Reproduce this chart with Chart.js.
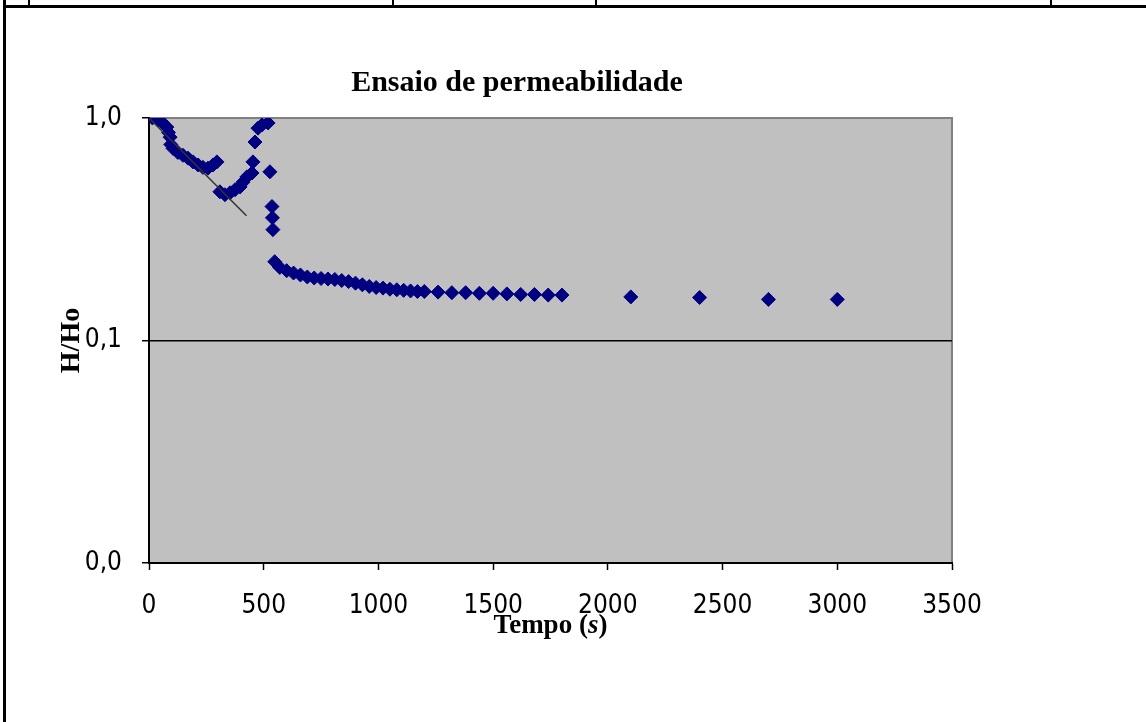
<!DOCTYPE html>
<html>
<head>
<meta charset="utf-8">
<script src="https://cdn.jsdelivr.net/npm/chart.js"></script>
<style>
  html, body { margin: 0; padding: 0; background: #fff; }
  #wrap { position: relative; width: 1146px; height: 722px; overflow: hidden; }
  .ln { position: absolute; background: #000; }
  canvas { position: absolute; left: 0; top: 0; }
</style>
</head>
<body>
<div id="wrap">
  <canvas id="chart-perm" width="1146" height="722"></canvas>
  <!-- table frame of the page -->
  <div class="ln" style="left:3px;top:0;width:3px;height:722px"></div>
  <div class="ln" style="left:3px;top:5px;width:1143px;height:3px"></div>
  <div class="ln" style="left:28px;top:0;width:2px;height:6px"></div>
  <div class="ln" style="left:392px;top:0;width:2px;height:6px"></div>
  <div class="ln" style="left:595px;top:0;width:2px;height:6px"></div>
  <div class="ln" style="left:1050px;top:0;width:2px;height:6px"></div>
</div>
<script>
// Tempo (s) and H/Ho
const timeS = [
  15, 40, 60, 78, 85, 92, 95, 105, 126, 148, 170, 192, 214, 235, 257, 279, 296,
  309, 331, 353, 375, 397, 410, 427, 449, 453, 462, 475, 492, 519,
  527, 536, 538, 540,
  548, 570, 600, 630, 660, 690, 720, 750, 780, 810, 840, 870, 900, 930, 960, 990,
  1020, 1050, 1080, 1110, 1140, 1170, 1200,
  1260, 1320, 1380, 1440, 1500, 1560, 1620, 1680, 1740, 1800,
  2100, 2400, 2700, 3000,
];
const hRatio = [
  1.0, 0.98, 0.95, 0.91, 0.86, 0.82, 0.76, 0.73, 0.70, 0.68, 0.66, 0.635, 0.615, 0.60, 0.595, 0.615, 0.635,
  0.466, 0.452, 0.461, 0.476, 0.49, 0.515, 0.544, 0.566, 0.635, 0.78, 0.90, 0.93, 0.95,
  0.573, 0.40, 0.356, 0.315,
  0.226, 0.213, 0.206, 0.201, 0.197, 0.193, 0.191, 0.190, 0.189, 0.188, 0.186, 0.184, 0.181, 0.178, 0.175, 0.173,
  0.172, 0.170, 0.169, 0.168, 0.167, 0.166, 0.166,
  0.165, 0.164, 0.164, 0.163, 0.163, 0.162, 0.161, 0.161, 0.160, 0.160,
  0.157, 0.156, 0.153, 0.153,
];

// trend line (exponential fit drawn over the first points)
const trendT = [0, 425];
const trendH = [1.0, 0.364];

const yTickValues = [0.01, 0.1, 1];
const yTickLabels = ['0,0', '0,1', '1,0'];

const tickFont = { family: '"Liberation Sans Narrow", "DejaVu Sans Condensed", "Arial Narrow", sans-serif', size: 26 };
const serifBold = size => ({ family: '"Liberation Serif", "Times New Roman", serif', size, weight: 'bold' });

const plotBg = {
  id: 'plotBg',
  beforeDraw(chart) {
    const { ctx, chartArea: a } = chart;
    ctx.save();
    ctx.fillStyle = '#c0c0c0';
    ctx.fillRect(a.left, a.top, a.width, a.height);
    ctx.strokeStyle = '#808080';
    ctx.lineWidth = 2;
    ctx.strokeRect(a.left, a.top, a.width, a.height);
    ctx.restore();
  },
};

// chart title and x axis title (with the italic "s"), placed as in the original
const texts = {
  id: 'texts',
  afterDraw(chart) {
    const { ctx, chartArea: a } = chart;
    const line = (parts, cx, cy) => {
      let w = 0;
      parts.forEach(([t, f]) => { ctx.font = f; w += ctx.measureText(t).width; });
      let x = cx - w / 2;
      parts.forEach(([t, f]) => {
        ctx.font = f;
        ctx.fillText(t, x, cy);
        x += ctx.measureText(t).width;
      });
    };
    ctx.save();
    ctx.fillStyle = '#000';
    ctx.textBaseline = 'middle';
    line([['Ensaio de permeabilidade', 'bold 30px "Liberation Serif", serif']], 517, 83);
    line([
      ['Tempo (', 'bold 27px "Liberation Serif", serif'],
      ['s', 'italic bold 27px "Liberation Serif", serif'],
      [')', 'bold 27px "Liberation Serif", serif'],
    ], (a.left + a.right) / 2, 626);
    ctx.restore();
  },
};

const points = timeS.map((t, i) => ({ x: t, y: hRatio[i] }));
const trend = trendT.map((t, i) => ({ x: t, y: trendH[i] }));

new Chart(document.getElementById('chart-perm'), {
  type: 'scatter',
  data: {
    datasets: [
      {
        type: 'line',
        label: 'Ajuste',
        data: trend,
        borderColor: '#333333',
        borderWidth: 1.5,
        pointRadius: 0,
        fill: false,
      },
      {
        label: 'H/Ho',
        data: points,
        pointStyle: 'rectRot',
        pointRadius: 7,
        pointBackgroundColor: '#000080',
        pointBorderColor: '#000080',
        pointBorderWidth: 1,
        showLine: false,
      },
    ],
  },
  options: {
    responsive: false,
    animation: false,
    devicePixelRatio: 1,
    layout: { padding: { left: 0, right: 194, top: 118, bottom: 0 } },
    plugins: {
      legend: { display: false },
      tooltip: { enabled: false },
      title: { display: false },
    },
    scales: {
      x: {
        type: 'linear',
        min: 0,
        max: 3500,
        afterFit: s => { s.height = 159; },
        ticks: { stepSize: 500, color: '#000', font: tickFont, padding: 21, maxRotation: 0, callback: v => String(v) },
        grid: { drawOnChartArea: false, drawTicks: true, tickLength: 7, tickColor: '#000', tickWidth: 1.5 },
        border: { color: '#000', width: 2 },
        title: { display: false },
      },
      y: {
        type: 'logarithmic',
        min: 0.01,
        max: 1,
        afterFit: s => { s.width = 149; },
        afterBuildTicks: s => { s.ticks = yTickValues.map(v => ({ value: v })); },
        ticks: {
          color: '#000',
          font: tickFont,
          padding: 20,
          callback: v => yTickLabels[yTickValues.indexOf(v)] ?? '',
        },
        grid: {
          color: c => (c.tick && c.tick.value === 0.1 ? '#000' : 'rgba(0,0,0,0)'),
          lineWidth: 1.5,
          drawTicks: true,
          tickLength: 7,
          tickColor: '#000',
          tickWidth: 1.5,
        },
        border: { color: '#000', width: 2 },
        title: {
          display: true,
          text: 'H/Ho',
          color: '#000',
          font: serifBold(28),
          padding: { top: 55, bottom: 0 },
        },
      },
    },
  },
  plugins: [plotBg, texts],
});
</script>
</body>
</html>
